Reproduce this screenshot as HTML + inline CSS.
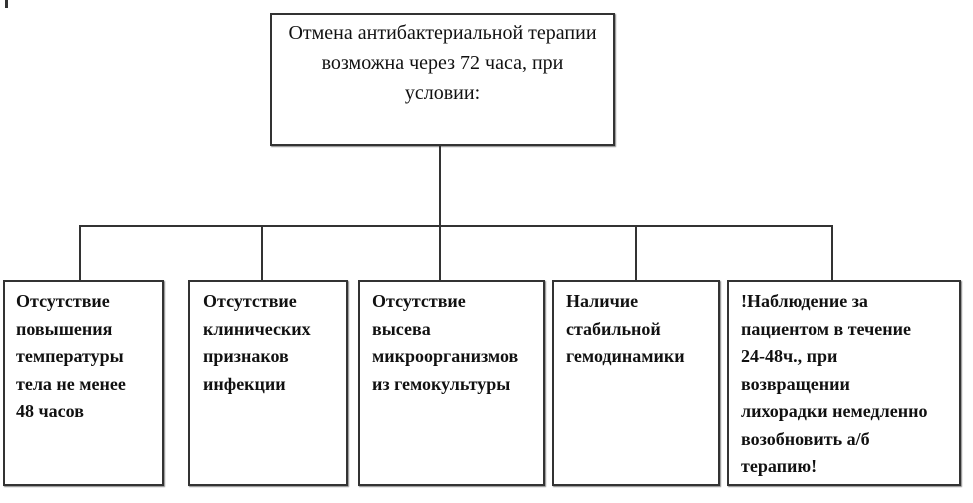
<!DOCTYPE html>
<html><head><meta charset="utf-8"><style>
body{margin:0;width:973px;height:503px;background:#fff;position:relative;overflow:hidden;font-family:"Liberation Serif",serif;color:#111}
.b{position:absolute;border:2px solid #333;box-sizing:border-box;box-shadow:1px 1px 1px #888}
.l{position:absolute;background:#333}
.t{position:absolute;font-size:18px;line-height:27.5px;font-weight:bold;white-space:nowrap}
</style></head><body>
<div class="l" style="left:5px;top:0;width:3px;height:8px"></div>
<div class="b" style="left:270px;top:13px;width:345px;height:133px"></div>
<div class="t" style="left:270px;top:18px;width:345px;text-align:center;font-size:20px;line-height:30px;font-weight:normal">Отмена антибактериальной терапии<br>возможна через 72 часа, при<br>условии:</div>
<div class="l" style="left:439px;top:146px;width:2px;height:134px"></div>
<div class="l" style="left:79px;top:225px;width:754px;height:2px"></div>
<div class="l" style="left:79px;top:225px;width:2px;height:55px"></div>
<div class="l" style="left:261px;top:225px;width:2px;height:55px"></div>
<div class="l" style="left:635px;top:225px;width:2px;height:55px"></div>
<div class="l" style="left:831px;top:225px;width:2px;height:55px"></div>
<div class="b" style="left:3px;top:280px;width:161px;height:206px"></div>
<div class="b" style="left:188px;top:280px;width:160px;height:206px"></div>
<div class="b" style="left:358px;top:280px;width:187px;height:206px"></div>
<div class="b" style="left:552px;top:280px;width:168px;height:206px"></div>
<div class="b" style="left:727px;top:280px;width:234px;height:206px"></div>
<div class="t" style="left:16px;top:288px">Отсутствие<br>повышения<br>температуры<br>тела не менее<br>48 часов</div>
<div class="t" style="left:203px;top:288px">Отсутствие<br>клинических<br>признаков<br>инфекции</div>
<div class="t" style="left:372px;top:288px">Отсутствие<br>высева<br>микроорганизмов<br>из гемокультуры</div>
<div class="t" style="left:566px;top:288px">Наличие<br>стабильной<br>гемодинамики</div>
<div class="t" style="left:741px;top:288px">!Наблюдение за<br>пациентом в течение<br>24-48ч., при<br>возвращении<br>лихорадки немедленно<br>возобновить а/б<br>терапию!</div>
</body></html>
